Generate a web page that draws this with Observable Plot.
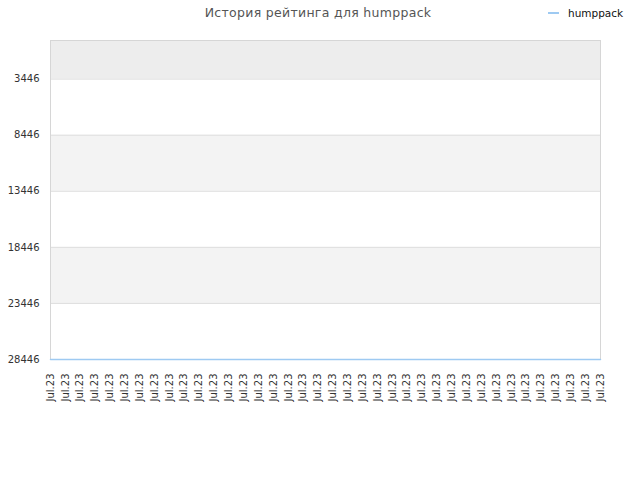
<!DOCTYPE html>
<html>
<head>
<meta charset="utf-8">
<script src="https://cdn.jsdelivr.net/npm/d3@7"></script>
<script src="https://cdn.jsdelivr.net/npm/@observablehq/plot@0.6"></script>
<style>
  body { margin: 0; background: #fff; font-family: "DejaVu Sans", sans-serif; }
  #wrap { position: relative; width: 640px; height: 480px; }
  #title { position: absolute; left: 0; width: 636px; top: 5px; text-align: center; font-size: 12.5px; color: #555; letter-spacing: 0.3px; }
  #legend { position: absolute; left: 548px; top: 7px; font-size: 10.5px; color: #111; display: flex; align-items: center; }
  #legend .sw { width: 11px; height: 2px; background: #9ecaf2; margin-right: 9px; }
  svg { position: absolute; left: 0; top: 0; }
</style>
</head>
<body>
<div id="wrap">
  <div id="title">История рейтинга для humppack</div>
  <div id="legend"><span class="sw"></span><span>humppack</span></div>
</div>
<script>
const seriesName = "humppack";
const dateLabels = Array(38).fill("Jul.23");
const rankValues = [28446,28446,28446,28446,28446,28446,28446,28446,28446,28446,
                    28446,28446,28446,28446,28446,28446,28446,28446,28446,28446,
                    28446,28446,28446,28446,28446,28446,28446,28446,28446,28446,
                    28446,28446,28446,28446,28446,28446,28446,28446];
const yTicks = [3446, 8446, 13446, 18446, 23446, 28446];
const bandLow = [0, 8446, 18446];
const bandHigh = [3446, 13446, 23446];

const idx = dateLabels.map((_, i) => i);
const data = idx.map(i => ({i, label: dateLabels[i], rank: rankValues[i]}));
const bands = bandLow.map((lo, k) => ({lo, hi: bandHigh[k], k}));

const chart = Plot.plot({
  width: 640,
  height: 480,
  marginLeft: 50,
  marginRight: 40,
  marginTop: 40,
  marginBottom: 121,
  style: {fontFamily: "DejaVu Sans, sans-serif", fontSize: "10px", color: "#333", background: "transparent"},
  x: {type: "point", domain: idx, padding: 0, label: null},
  y: {domain: [0, 28446], reverse: true, label: null},
  marks: [
    Plot.rect(bands, {y1: "lo", y2: "hi", fill: d => d.k === 0 ? "#ededed" : "#f3f3f3"}),
    Plot.ruleY(yTicks.slice(0, -1), {stroke: "#dedede", strokeWidth: 1}),
    Plot.frame({stroke: "#d6d6d6"}),
    Plot.line(data, {x: "i", y: "rank", stroke: "#9ecaf2", strokeWidth: 1.5}),
    Plot.axisY({ticks: yTicks, tickSize: 0, tickPadding: 11, tickFormat: d => String(d), fill: "#333", fontSize: 10, label: null}),
    Plot.axisX({ticks: idx, tickSize: 0, tickPadding: 14, tickRotate: -90, tickFormat: i => dateLabels[i], fill: "#333", fontSize: 10, label: null})
  ]
});
document.getElementById("wrap").prepend(chart);
</script>
</body>
</html>
